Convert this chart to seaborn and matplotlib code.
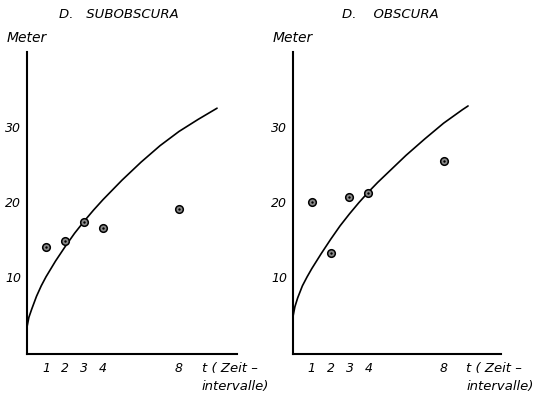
import matplotlib
matplotlib.use("Agg")
import matplotlib.pyplot as plt
import seaborn as sns
import pandas as pd

# --- data ---
t_points = [1, 2, 3, 4, 8]
sub_points = [14.0, 14.8, 17.3, 16.5, 19.1]
obs_points = [20.0, 13.2, 20.7, 21.2, 25.5]

sub_curve_t = [0.0, 0.1, 0.25, 0.5, 0.75, 1.0, 1.5, 2.0, 2.5, 3.0, 3.5, 4.0, 4.5, 5.0, 6.0, 7.0, 8.0, 9.0, 10.0]
sub_curve_y = [3.3, 4.6, 5.7, 7.4, 8.8, 10.0, 12.1, 14.0, 15.8, 17.4, 18.9, 20.3, 21.6, 22.9, 25.3, 27.5, 29.4, 31.0, 32.5]
obs_curve_t = [0.0, 0.1, 0.25, 0.5, 0.75, 1.0, 1.5, 2.0, 2.5, 3.0, 3.5, 4.0, 4.5, 5.0, 6.0, 7.0, 8.0, 9.0, 9.3]
obs_curve_y = [4.7, 6.0, 7.2, 8.8, 10.0, 11.1, 13.1, 15.0, 16.8, 18.4, 19.9, 21.3, 22.6, 23.8, 26.2, 28.4, 30.5, 32.3, 32.8]

yticks = [10, 20, 30]
xticks = [1, 2, 3, 4, 8]
titles = ["D.   SUBOBSCURA", "D.    OBSCURA"]
ylabel = "Meter"
xlabel_1 = "t ( Zeit \u2013"
xlabel_2 = "intervalle)"

sns.set_style("white")
plt.rcParams['font.family'] = ['DejaVu Sans']
plt.rcParams['text.color'] = 'black'
plt.rcParams['xtick.color'] = 'black'
plt.rcParams['ytick.color'] = 'black'

W, H = 538, 396
fig = plt.figure(figsize=(W / 100, H / 100), dpi=100)

def px(x0, y0, x1, y1):
    return [x0 / W, 1 - y1 / H, (x1 - x0) / W, (y1 - y0) / H]

panels = [
    dict(rect=px(27, 52, 237, 354), ct=sub_curve_t, cy=sub_curve_y, py=sub_points,
         title=titles[0], title_x=59, meter_x=7),
    dict(rect=px(293, 52, 501, 354), ct=obs_curve_t, cy=obs_curve_y, py=obs_points,
         title=titles[1], title_x=342, meter_x=273),
]

for p in panels:
    ax = fig.add_axes(p['rect'])
    ax.set_facecolor('none')
    dfc = pd.DataFrame({'t': p['ct'], 'y': p['cy']})
    sns.lineplot(data=dfc, x='t', y='y', ax=ax, color='black', lw=1.2, sort=False)
    dfp = pd.DataFrame({'t': t_points, 'y': p['py']})
    sns.scatterplot(data=dfp, x='t', y='y', ax=ax, s=30, color='#8a8a8a',
                    edgecolor='black', linewidth=1.1, zorder=5)
    sns.scatterplot(data=dfp, x='t', y='y', ax=ax, s=3, color='black',
                    edgecolor='black', linewidth=0, zorder=6)
    ax.set_xlim(0, 11.05)
    ax.set_ylim(-0.3, 40)
    ax.set_xlabel('')
    ax.set_ylabel('')
    ax.set_xticks(xticks)
    ax.set_yticks(yticks)
    ax.set_xticklabels([str(v) for v in xticks], fontstyle='italic', fontsize=9)
    ax.set_yticklabels([str(v) for v in yticks], fontstyle='italic', fontsize=9)
    ax.tick_params(axis='x', direction='in', length=5, width=1.2, pad=6, colors='black')
    ax.tick_params(axis='y', direction='in', length=4, width=1.2, pad=4, colors='black')
    for s in ['top', 'right']:
        ax.spines[s].set_visible(False)
    for s in ['left', 'bottom']:
        ax.spines[s].set_color('black')
        ax.spines[s].set_linewidth(1.5)
    ax.text(9.2, -2.2, xlabel_1, fontstyle='italic', fontsize=9.5, va='center', ha='left',
            clip_on=False)
    ax.text(9.2, -4.7, xlabel_2, fontstyle='italic', fontsize=9.5, va='center', ha='left',
            clip_on=False)
    fig.text(p['title_x'] / W, 1 - 14 / H, p['title'], fontstyle='italic', fontsize=9.5,
             va='center', ha='left')
    fig.text(p['meter_x'] / W, 1 - 38 / H, ylabel, fontstyle='italic', fontsize=10,
             va='center', ha='left')

fig.savefig('out.png', dpi=100)
